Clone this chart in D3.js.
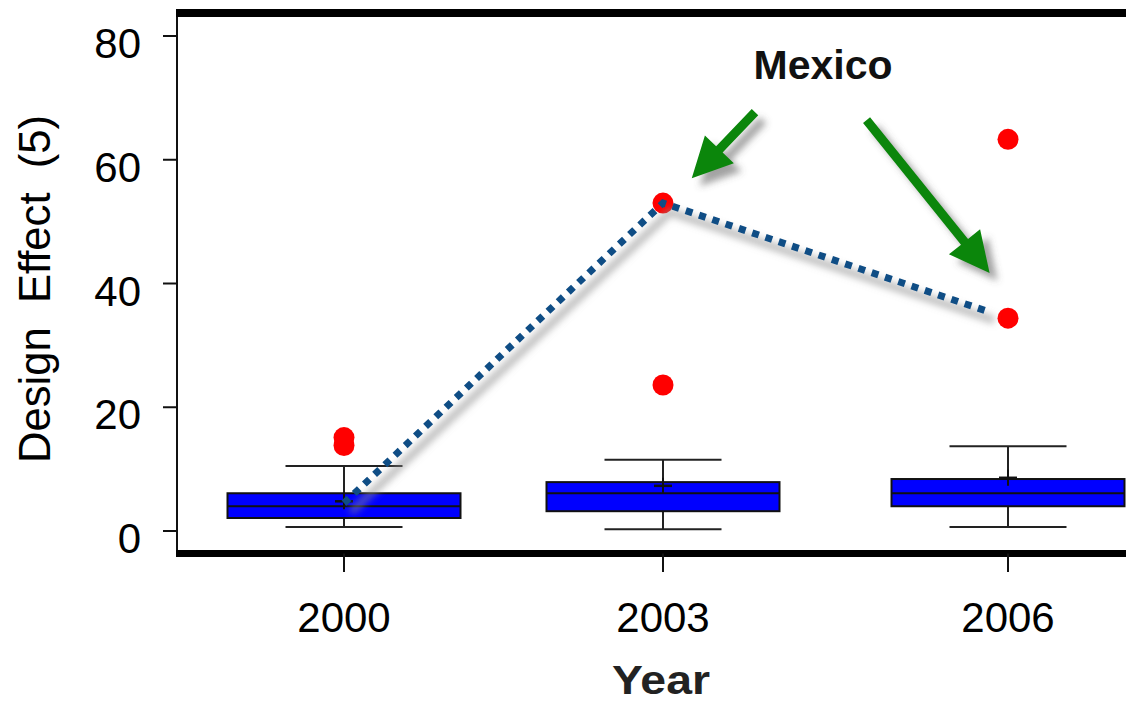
<!DOCTYPE html>
<html>
<head>
<meta charset="utf-8">
<script src="https://cdn.jsdelivr.net/npm/d3@7"></script>
<style>
  body { margin: 0; background: #fff; }
  text { font-family: "Liberation Sans", Arial, sans-serif; }
</style>
</head>
<body>
<svg id="chart" width="1126" height="704"></svg>
<script>
// Box plot summary per survey year.
var years = [2000, 2003, 2006];
var q1 = [2.1, 3.2, 4.0];
var median = [4.0, 6.1, 6.1];
var q3 = [6.1, 7.9, 8.4];
var whiskerLow = [0.65, 0.3, 0.65];
var whiskerHigh = [10.5, 11.5, 13.7];
var means = [4.8, 7.3, 8.6];
var outliers = [[15.1, 13.8], [53, 23.6], [63.3, 34.4]];

// Mexico's path across the years.
var mexico = [4.5, 53, 34.4];

var yTicks = [0, 20, 40, 60, 80];

// Annotation arrows, in (year, value) space.
var arrowFrom = [[2003.8, 67.7], [2004.77, 66.4]];
var arrowTo = [[2003.25, 57.0], [2005.84, 41.7]];

var svg = d3.select("#chart");

var plotLeft = 177, plotRight = 1126, plotTop = 13, plotBottom = 553.5;
var boxWidth = 233, capWidth = 117;

var x = d3.scaleLinear().domain(years).range([344, 663, 1008]);
var y = d3.scaleLinear().domain([0, 80]).range([531, 36]);

var defs = svg.append("defs");
defs.append("filter").attr("id", "blur")
    .attr("x", "-20%").attr("y", "-20%").attr("width", "140%").attr("height", "140%")
  .append("feGaussianBlur").attr("stdDeviation", 3.5);

// frame
svg.append("line").attr("x1", plotLeft).attr("x2", plotLeft).attr("y1", plotTop).attr("y2", plotBottom)
    .attr("stroke", "#111").attr("stroke-width", 2);
svg.append("line").attr("x1", plotLeft - 1).attr("x2", plotRight).attr("y1", plotTop).attr("y2", plotTop)
    .attr("stroke", "#000").attr("stroke-width", 8);
svg.append("line").attr("x1", plotLeft - 1).attr("x2", plotRight).attr("y1", plotBottom).attr("y2", plotBottom)
    .attr("stroke", "#000").attr("stroke-width", 7);

// y axis
yTicks.forEach(function(t) {
  svg.append("line").attr("x1", plotLeft - 14).attr("x2", plotLeft).attr("y1", y(t)).attr("y2", y(t))
      .attr("stroke", "#111").attr("stroke-width", 2);
  svg.append("text").attr("x", 141).attr("y", y(t) + 22)
      .attr("text-anchor", "end").attr("font-size", 42).attr("fill", "#000")
      .text(t);
});

// x axis
years.forEach(function(yr) {
  svg.append("line").attr("x1", x(yr)).attr("x2", x(yr)).attr("y1", plotBottom).attr("y2", 572)
      .attr("stroke", "#111").attr("stroke-width", 2);
  svg.append("text").attr("x", x(yr)).attr("y", 632)
      .attr("text-anchor", "middle").attr("font-size", 42).attr("fill", "#000")
      .text(yr);
});

// boxes
years.forEach(function(yr, i) {
  var cx = x(yr);
  var g = svg.append("g");
  g.append("line").attr("x1", cx).attr("x2", cx)
      .attr("y1", y(whiskerHigh[i])).attr("y2", y(whiskerLow[i]))
      .attr("stroke", "#222").attr("stroke-width", 2);
  [whiskerHigh[i], whiskerLow[i]].forEach(function(v) {
    g.append("line").attr("x1", cx - capWidth / 2).attr("x2", cx + capWidth / 2)
        .attr("y1", y(v)).attr("y2", y(v))
        .attr("stroke", "#222").attr("stroke-width", 2);
  });
  g.append("rect").attr("x", cx - boxWidth / 2).attr("width", boxWidth)
      .attr("y", y(q3[i])).attr("height", y(q1[i]) - y(q3[i]))
      .attr("fill", "#0000ff").attr("stroke", "#111").attr("stroke-width", 2);
  g.append("line").attr("x1", cx - boxWidth / 2).attr("x2", cx + boxWidth / 2)
      .attr("y1", y(median[i])).attr("y2", y(median[i]))
      .attr("stroke", "#111").attr("stroke-width", 2);
  // mean "+"
  g.append("line").attr("x1", cx - 9).attr("x2", cx + 9)
      .attr("y1", y(means[i])).attr("y2", y(means[i]))
      .attr("stroke", "#111").attr("stroke-width", 2.5);
  g.append("line").attr("x1", cx).attr("x2", cx)
      .attr("y1", y(means[i]) - 8).attr("y2", y(means[i]) + 8)
      .attr("stroke", "#111").attr("stroke-width", 2);
});

// outliers
years.forEach(function(yr, i) {
  outliers[i].forEach(function(v) {
    svg.append("circle").attr("cx", x(yr)).attr("cy", y(v)).attr("r", 10.5)
        .attr("fill", "#ff0000");
  });
});

// Mexico dotted line with a soft shadow
var pts = years.map(function(yr, i) { return [x(yr), y(mexico[i])]; });
var last = pts[pts.length - 1], prev = pts[pts.length - 2];
var segLen = Math.hypot(last[0] - prev[0], last[1] - prev[1]);
var trim = 22 / segLen;
pts[pts.length - 1] = [last[0] - (last[0] - prev[0]) * trim, last[1] - (last[1] - prev[1]) * trim];
var line = d3.line();

svg.append("path").attr("d", line(pts))
    .attr("transform", "translate(7,9)")
    .attr("fill", "none").attr("stroke", "#8a8a8a").attr("stroke-opacity", 0.55)
    .attr("stroke-width", 8).attr("filter", "url(#blur)");
svg.append("path").attr("d", line(pts))
    .attr("fill", "none").attr("stroke", "#0f4d85").attr("stroke-width", 7)
    .attr("stroke-dasharray", "7,7");

// arrows
function arrowPoints(from, to) {
  var sx = x(from[0]), sy = y(from[1]), tx = x(to[0]), ty = y(to[1]);
  var len = Math.hypot(tx - sx, ty - sy);
  var ux = (tx - sx) / len, uy = (ty - sy) / len;
  var nx = -uy, ny = ux;
  var head = 40, hw = 20, sw = 4.5;
  var bx = tx - ux * head, by = ty - uy * head;
  return [
    [sx + nx * sw, sy + ny * sw], [bx + nx * sw, by + ny * sw], [bx + nx * hw, by + ny * hw],
    [tx, ty],
    [bx - nx * hw, by - ny * hw], [bx - nx * sw, by - ny * sw], [sx - nx * sw, sy - ny * sw]
  ];
}
arrowFrom.forEach(function(f, i) {
  var p = arrowPoints(f, arrowTo[i]).map(function(d) { return d.join(","); }).join(" ");
  svg.append("polygon").attr("points", p).attr("transform", "translate(8,8)")
      .attr("fill", "#555").attr("fill-opacity", 0.55).attr("filter", "url(#blur)");
  svg.append("polygon").attr("points", p).attr("fill", "#0b860b");
});

// labels
svg.append("text").attr("x", 823).attr("y", 79).attr("text-anchor", "middle")
    .attr("font-size", 41).attr("font-weight", "bold").attr("fill", "#111")
    .text("Mexico");

svg.append("text").attr("x", 661).attr("y", 694).attr("text-anchor", "middle")
    .attr("font-size", 41).attr("font-weight", "bold").attr("fill", "#222")
    .attr("textLength", 98).attr("lengthAdjust", "spacingAndGlyphs")
    .text("Year");

svg.append("text")
    .attr("transform", "translate(50,289) rotate(-90)")
    .attr("text-anchor", "middle").attr("font-size", 45).attr("fill", "#000")
    .attr("textLength", 348).attr("lengthAdjust", "spacingAndGlyphs")
    .style("white-space", "pre")
    .text("Design  Effect  (5)");
</script>
</body>
</html>
